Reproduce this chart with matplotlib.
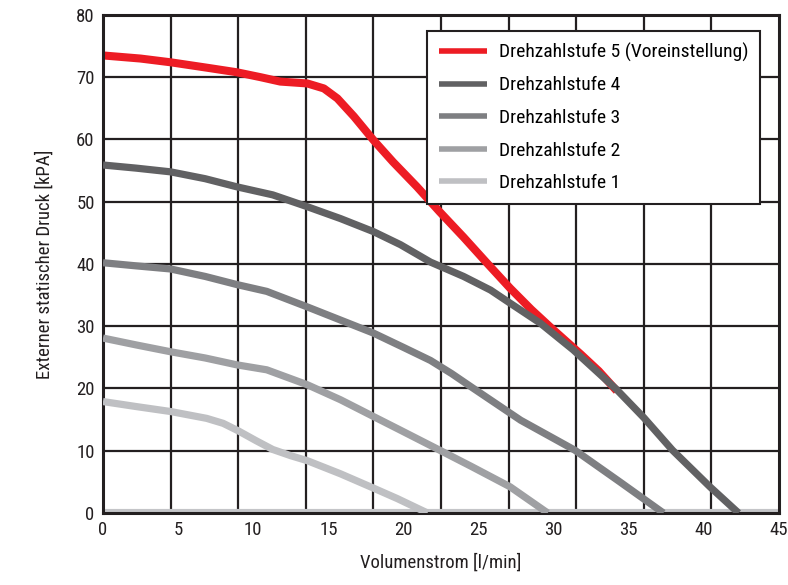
## Kennlinien Pumpe - externer statischer Druck vs. Volumenstrom

import numpy as np
import matplotlib.pyplot as plt

plt.rcParams['font.family'] = ['Roboto Condensed', 'Liberation Sans Narrow', 'DejaVu Sans']
plt.rcParams['font.stretch'] = 'condensed'

# data
x5 = [0, 2.5, 4.5, 7, 8.9, 10.5, 11.8, 13.6, 14.7, 15.6, 16.7, 18, 19.3, 20.9, 22.4, 24, 25.5, 27.1, 28.5, 29.8, 31.8, 33, 34.2]
y5 = [73.5, 73, 72.4, 71.5, 70.8, 70, 69.3, 69, 68.2, 66.6, 63.7, 59.9, 56.4, 52.4, 48.4, 44.3, 40.3, 36.1, 32.7, 29.8, 25.5, 22.8, 19.6]

x4 = [0, 2.2, 4.5, 6.8, 8.9, 11.3, 13.6, 15.8, 18, 19.8, 21.8, 24, 25.8, 27.1, 29.1, 31.3, 34.2, 36, 37.9, 40.4, 42.3]
y4 = [55.9, 55.4, 54.8, 53.7, 52.4, 51.1, 49.2, 47.3, 45.2, 43.1, 40.3, 38, 35.8, 33.7, 30.5, 26.2, 19.8, 15.3, 10.1, 4.2, 0]

x3 = [0, 2.2, 4.5, 6.8, 8.9, 10.9, 13.6, 15.8, 18, 20, 21.8, 23.2, 24.6, 27.8, 31.4, 34.4, 37.3]
y3 = [40.2, 39.7, 39.2, 38, 36.7, 35.6, 33.1, 31, 28.9, 26.6, 24.5, 22.4, 20.1, 14.9, 10.1, 5, 0]

x2 = [0, 2.2, 4.5, 6.8, 8.9, 10.9, 13.6, 15.8, 18, 19.8, 22.4, 24.5, 27.1, 29.6]
y2 = [28.1, 27, 25.9, 24.9, 23.8, 23, 20.6, 18.2, 15.5, 13.3, 10.1, 7.5, 4.2, 0]

x1 = [0, 2.2, 4.5, 6.9, 8, 9, 10.2, 11.3, 12.5, 13.6, 15.8, 18, 19.6, 20.9, 21.6]
y1 = [17.9, 17.1, 16.3, 15.2, 14.4, 13.2, 11.6, 10.2, 9.2, 8.4, 6.3, 4, 2.3, 0.8, 0]

labels = ['Drehzahlstufe 5 (Voreinstellung)', 'Drehzahlstufe 4', 'Drehzahlstufe 3',
          'Drehzahlstufe 2', 'Drehzahlstufe 1']
colors = ['#ed1c24', '#616163', '#7e7f82', '#9fa0a3', '#bfc0c3']

fig = plt.figure(figsize=(7.88, 5.85), dpi=100)
ax = fig.add_axes([0.1307, 0.1231, 0.858, 0.8513])

# grid: vertical every 4.5, horizontal every 10
ax.set_xticks(np.arange(0, 45.1, 5))
ax.set_xticks(np.arange(0, 45.1, 4.5), minor=True)
ax.set_yticks(np.arange(0, 80.1, 10))
ax.grid(which='minor', axis='x', color='#231f20', linewidth=1.6)
ax.grid(which='major', axis='y', color='#231f20', linewidth=1.6)
ax.grid(which='major', axis='x', visible=False)
ax.tick_params(which='both', length=0, labelsize=13.5, pad=6, colors='#231f20')
ax.set_axisbelow(True)

ax.axhline(0.35, color='#c4c5c8', linewidth=3, zorder=1.5)

lines = []
for xs, ys, c, lw, z in [(x5, y5, colors[0], 5.8, 2),
                         (x4, y4, colors[1], 5.2, 3),
                         (x3, y3, colors[2], 5.2, 3),
                         (x2, y2, colors[3], 5.2, 3),
                         (x1, y1, colors[4], 5.2, 3)]:
    l, = ax.plot(xs, ys, color=c, linewidth=lw, solid_capstyle='butt',
                 solid_joinstyle='round', zorder=z)
    lines.append(l)

ax.set_xlim(0, 45)
ax.set_ylim(0, 80)
for s in ax.spines.values():
    s.set_linewidth(2.2)
    s.set_color('#231f20')

ax.set_xlabel('Volumenstrom [l/min]', fontsize=13.5, labelpad=10, color='#231f20')
ax.set_ylabel('Externer statischer Druck [kPA]', fontsize=13.5, labelpad=16, color='#231f20')

leg = ax.legend(lines, labels, loc='upper right', bbox_to_anchor=(0.972, 0.968),
                borderaxespad=0, fontsize=14, handlelength=2.5, handletextpad=0.6,
                labelspacing=0.75, borderpad=0.6, fancybox=False, framealpha=1,
                edgecolor='#231f20')
leg.get_frame().set_linewidth(1.5)
for h in leg.get_lines():
    h.set_linewidth(4)

plt.savefig('out.png', dpi=100)
